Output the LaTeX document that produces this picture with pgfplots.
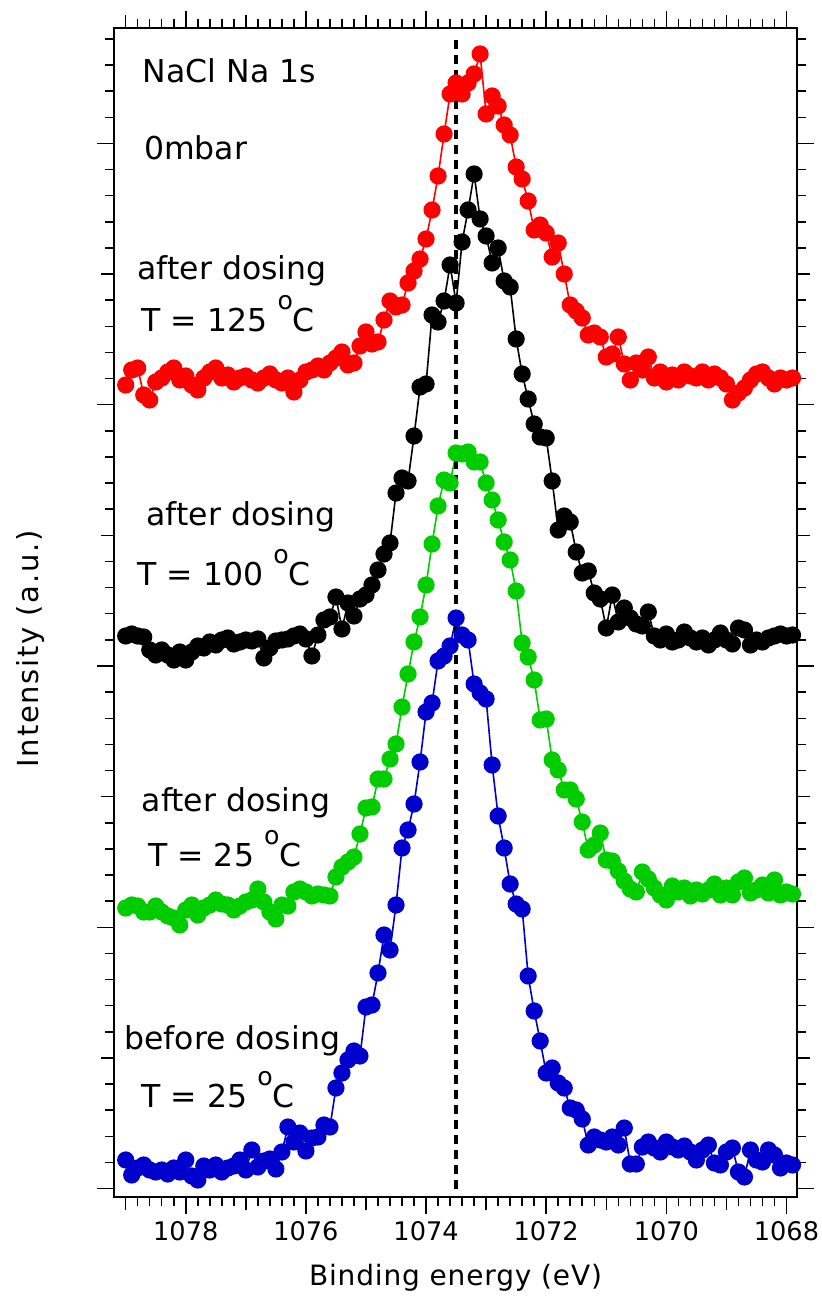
\documentclass[border=0pt]{standalone}
\usepackage{fontspec}
\setmainfont{DejaVu Sans}
\newfontfamily\labfont[LetterSpace=3]{DejaVu Sans}
\newfontfamily\ylabfont[LetterSpace=6]{DejaVu Sans}
\usepackage{pgfplots}
\pgfplotsset{compat=1.18}
\usepackage{pgfplotstable}

\definecolor{xgreen}{RGB}{0,204,0}
\definecolor{xblue}{RGB}{0,0,204}

\newcommand{\annfont}{\fontsize{15.75pt}{18pt}\selectfont}
\newcommand{\tickfont}{\fontsize{12.8pt}{14pt}\selectfont}
\newcommand{\dg}{\raisebox{0.7em}{\fontsize{12.6pt}{12.6pt}\selectfont o}C}

% E (eV), then intensity (a.u., offset) of the four spectra
\pgfplotstableread{
E red black green blue
1079.0 812 561 289 37
1078.9 827 563 292 22
1078.8 829 561 291 29
1078.7 802 560 285 32
1078.6 797 547 285 27
1078.5 815 542 291 25
1078.4 819 547 285 27
1078.3 825 542 281 23
1078.2 829 537 279 29
1078.1 817 545 272 25
1078.0 821 537 287 37
1077.9 812 545 292 21
1077.8 807 551 282 17
1077.7 819 549 289 31
1077.6 825 555 292 27
1077.5 829 552 297 32
1077.4 819 557 293 25
1077.3 822 559 292 29
1077.2 815 553 287 31
1077.1 819 555 291 37
1077.0 821 557 295 27
1076.9 817 556 297 47
1076.8 814 558 308 30
1076.7 819 539 295 36
1076.6 823 549 285 38
1076.5 817 556 278 28
1076.4 814 557 292 45
1076.3 819 558 291 70
1076.2 805 561 305 55
1076.1 817 563 308 64
1076.0 825 558 305 46
1075.9 827 541 301 59
1075.8 831 562 303 60
1075.7 827 577 302 72
1075.6 834 580 301 70
1075.5 839 600 320 109
1075.4 845 568 330 124
1075.3 832 594 335 137
1075.2 834 581 340 146
1075.1 851 598 363 141
1075.0 865 602 389 190
1074.9 853 612 390 192
1074.8 855 627 418 224
1074.7 877 643 418 262
1074.6 896 654 438 247
1074.5 890 704 453 292
1074.4 892 719 490 349
1074.3 914 716 523 367
1074.2 926 761 555 393
1074.1 938 810 580 435
1074.0 958 813 612 485
1073.9 987 882 653 494
1073.8 1021 875 691 536
1073.7 1063 896 717 541
1073.6 1103 932 714 551
1073.5 1114 894 744 579
1073.4 1103 955 743 562
1073.3 1114 987 745 557
1073.2 1123 1023 735 513
1073.1 1143 978 735 504
1073.0 1083 961 714 498
1072.9 1101 934 697 432
1072.8 1091 949 677 381
1072.7 1072 916 655 349
1072.6 1062 910 637 313
1072.5 1030 858 606 293
1072.4 1018 823 554 288
1072.3 996 798 540 221
1072.2 967 773 517 186
1072.1 972 760 477 156
1072.0 964 759 478 124
1071.9 940 716 437 129
1071.8 954 667 427 114
1071.7 923 681 407 109
1071.6 892 675 407 89
1071.5 886 645 398 87
1071.4 879 624 375 78
1071.3 862 626 347 52
1071.2 864 604 352 60
1071.1 860 598 364 57
1071.0 840 569 337 55
1070.9 843 602 336 60
1070.8 860 575 326 52
1070.7 833 589 316 69
1070.6 817 579 308 33
1070.5 834 573 305 33
1070.4 827 571 325 50
1070.3 840 585 318 55
1070.2 819 561 309 49
1070.1 825 557 302 45
1070.0 815 563 297 55
1069.9 822 555 311 50
1069.8 817 557 305 47
1069.7 825 565 309 51
1069.6 821 559 301 45
1069.5 819 555 307 37
1069.4 825 559 303 47
1069.3 817 552 307 52
1069.2 823 557 313 34
1069.1 819 564 302 32
1069.0 813 557 309 45
1068.9 797 553 302 49
1068.8 804 569 315 25
1068.7 809 567 319 20
1068.6 817 552 304 47
1068.5 823 557 307 37
1068.4 825 555 312 35
1068.3 819 559 304 47
1068.2 813 561 317 42
1068.1 819 563 302 29
1068.0 817 561 305 34
1067.9 819 562 303 32
}\spectra

\begin{document}
\begin{tikzpicture}
\begin{axis}[
    name=ax,
    scale only axis,
    width=341.2pt, height=584.75pt,
    x dir=reverse,
    xmin=1067.83, xmax=1079.19,
    ymin=-0.3, ymax=1169.2,
    clip=false,
    axis line style={line width=0.9pt},
    tick style={line width=0.75pt, black},
    tick align=outside,
    major tick length=8.5pt,
    minor tick length=4.5pt,
    xtick={1068,1070,...,1078},
    minor xtick={1068,1068.2,...,1079.01},
    extra x ticks={1069,1071,...,1079},
    extra x tick labels={},
    ytick={8.4,269.7,531,792.3,1053.6},
    yticklabels={},
    minor ytick={8.4,34.53,...,1160},
    extra y ticks={139.05,400.35,661.65,922.95},
    extra y tick labels={},
    extra tick style={major tick length=6.5pt},
    /pgf/number format/assume math mode=true,
    /pgf/number format/1000 sep={},
    xticklabel style={font=\tickfont},
    xlabel={Binding energy (eV)},
    xlabel style={at={(axis description cs:0.5,-0.0758)}, anchor=base,
        font=\fontsize{14pt}{16pt}\labfont},
    ylabel={Intensity (a.u.)},
    ylabel style={at={(axis description cs:-0.1235,0.469)}, anchor=center,
        font=\fontsize{14.5pt}{16pt}\ylabfont},
    every axis plot/.append style={line width=0.8pt, mark=*, mark size=3.9pt},
]

\addplot[red, mark options={fill=red, draw=red}] table[x=E, y=red] {\spectra};
\addplot[black, mark options={fill=black, draw=black}] table[x=E, y=black] {\spectra};
\addplot[xgreen, mark options={fill=xgreen, draw=xgreen}] table[x=E, y=green] {\spectra};
\addplot[xblue, mark options={fill=xblue, draw=xblue}] table[x=E, y=blue] {\spectra};

\addplot[black, mark=none, line width=1.7pt, dash pattern=on 4.5pt off 3pt]
    coordinates {(1073.5,8) (1073.5,1158)};

\node[anchor=base west, inner sep=0, font=\annfont] at (axis cs:1078.72,1114.3) {NaCl Na 1s};
\node[anchor=base west, inner sep=0, font=\annfont] at (axis cs:1078.70,1037.7) {0mbar};
\node[anchor=base west, inner sep=0, font=\annfont] at (axis cs:1078.81,917.7) {after dosing};
\node[anchor=base west, inner sep=0, font=\annfont] at (axis cs:1078.74,865.4) {T = 125 \dg};
\node[anchor=base west, inner sep=0, font=\annfont] at (axis cs:1078.66,671.2) {after dosing};
\node[anchor=base west, inner sep=0, font=\annfont] at (axis cs:1078.81,611) {T = 100 \dg};
\node[anchor=base west, inner sep=0, font=\annfont] at (axis cs:1078.74,385) {after dosing};
\node[anchor=base west, inner sep=0, font=\annfont] at (axis cs:1078.63,330) {T = 25 \dg};
\node[anchor=base west, inner sep=0, font=\annfont] at (axis cs:1079.03,147) {before dosing};
\node[anchor=base west, inner sep=0, font=\annfont] at (axis cs:1078.74,89) {T = 25 \dg};
\end{axis}
\pgfresetboundingbox
\path[use as bounding box] ([xshift=-57.15pt,yshift=-50.85pt]ax.south west)
    rectangle ([xshift=12.15pt,yshift=13.9pt]ax.north east);
\end{tikzpicture}
\end{document}
